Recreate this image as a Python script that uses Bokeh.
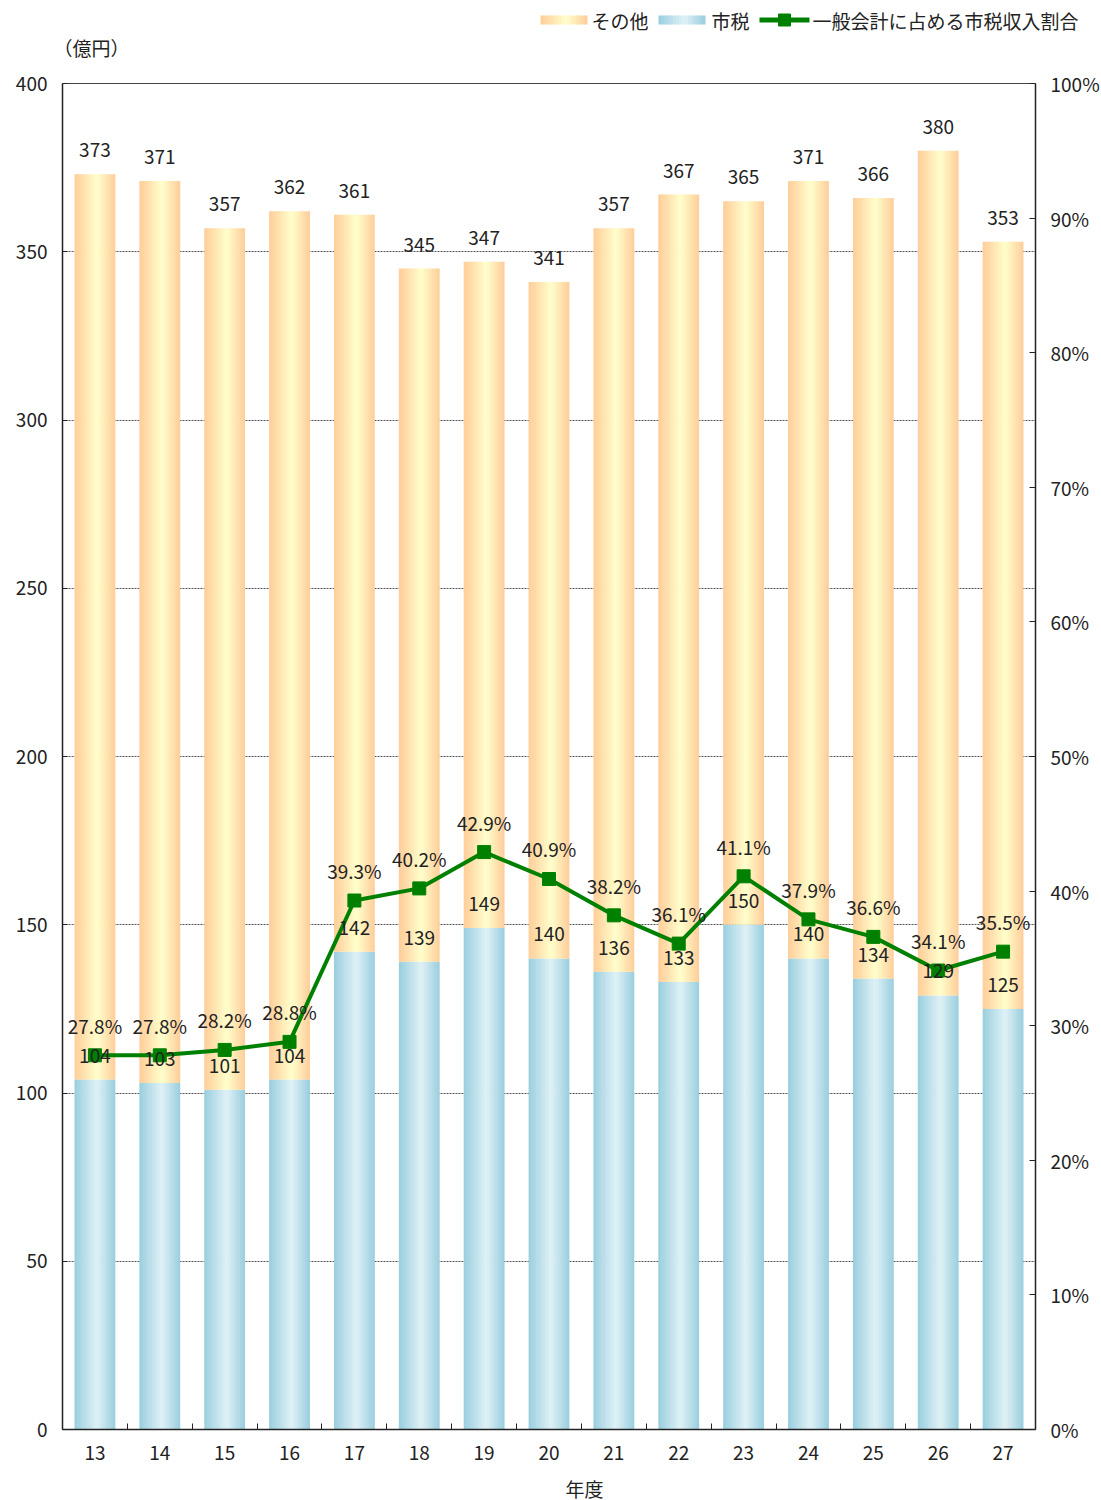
from bokeh.plotting import figure
from bokeh.models import (Range1d, LinearAxis, FixedTicker, ColumnDataSource,
                          LabelSet, Title, PrintfTickFormatter)
from bokeh.core.properties import value
from bokeh.embed import file_html
from bokeh.resources import INLINE
import numpy as np

# ---- data ----
years = ["13", "14", "15", "16", "17", "18", "19", "20", "21", "22", "23", "24", "25", "26", "27"]
city_tax = [104, 103, 101, 104, 142, 139, 149, 140, 136, 133, 150, 140, 134, 129, 125]
total = [373, 371, 357, 362, 361, 345, 347, 341, 357, 367, 365, 371, 366, 380, 353]
tax_ratio = [27.8, 27.8, 28.2, 28.8, 39.3, 40.2, 42.9, 40.9, 38.2, 36.1, 41.1, 37.9, 36.6, 34.1, 35.5]
left_ticks = [0, 50, 100, 150, 200, 250, 300, 350, 400]
right_ticks = [0, 10, 20, 30, 40, 50, 60, 70, 80, 90, 100]
series_names = ["その他", "市税", "一般会計に占める市税収入割合"]

FONT = "Noto Sans CJK JP"
FS = "19px"
TXT = "#222222"
GREEN = "#008000"
ORANGE_EDGE, ORANGE_CENTER = "#FFCC99", "#FFFFCC"
BLUE_EDGE, BLUE_CENTER = "#99CEDE", "#DFF1F6"
n = len(years)
idx = np.arange(n)
FIG_W = 1098
TOP_H = 65


def hex2rgb(h):
    h = h.lstrip("#")
    return np.array([int(h[i:i + 2], 16) for i in (0, 2, 4)], dtype=float)


def mix(c1, c2, a):
    c = hex2rgb(c1) * (1 - a) + hex2rgb(c2) * a
    return "#%02x%02x%02x" % tuple(int(round(v)) for v in c)


def gradient_strips(centers, width, bottom, top, edge, center, ns=16, peak=0.55):
    """Split each bar into ns vertical strips whose colour follows a horizontal gradient."""
    L, R, B, T, C = [], [], [], [], []
    sw = width / ns
    for i in range(ns):
        t = (i + 0.5) / ns
        a = t / peak if t <= peak else (1 - t) / (1 - peak)
        col = mix(edge, center, a)
        for k in range(len(centers)):
            l = centers[k] - width / 2 + i * sw
            r = l + sw * (1.25 if i < ns - 1 else 1.0)
            L.append(l); R.append(r); B.append(bottom[k]); T.append(top[k]); C.append(col)
    return ColumnDataSource(dict(left=L, right=R, bottom=B, top=T, color=C))


# ================= header: unit label + legend =================
hdr = figure(width=FIG_W, height=TOP_H, x_range=Range1d(0, FIG_W), y_range=Range1d(TOP_H, 0),
             x_axis_type=None, y_axis_type=None, output_backend="svg", toolbar_location=None,
             min_border=0, outline_line_color=None)
hdr.grid.visible = False

LEG_Y = 19.5
hdr.quad(left="left", right="right", bottom="bottom", top="top", fill_color="color", line_color=None,
         source=gradient_strips([563.5], 47, [LEG_Y + 4.5], [LEG_Y - 4.5], ORANGE_EDGE, ORANGE_CENTER))
hdr.quad(left="left", right="right", bottom="bottom", top="top", fill_color="color", line_color=None,
         source=gradient_strips([681.5], 47, [LEG_Y + 4.5], [LEG_Y - 4.5], BLUE_EDGE, BLUE_CENTER))
hdr.line(x=[759, 809], y=[LEG_Y, LEG_Y], line_color=GREEN, line_width=5)
hdr.scatter(x=[784], y=[LEG_Y], marker="square", size=12, fill_color=GREEN, line_color=GREEN)
hdr.text(x=[591, 711, 812], y=[LEG_Y] * 3, text=series_names, text_font=value(FONT),
         text_font_size=FS, text_color=TXT, text_baseline="middle", text_align="left")
hdr.text(x=[53], y=[47], text=["（億円）"], text_font=value(FONT), text_font_size=FS,
         text_color=TXT, text_baseline="middle", text_align="left")

# ================= main chart =================
p = figure(frame_width=973, frame_height=1346,
           x_range=Range1d(-0.5, n - 0.5), y_range=Range1d(0, 400),
           output_backend="svg", toolbar_location=None,
           min_border_left=62, min_border_right=63, min_border_top=83 - TOP_H,
           min_border_bottom=71)
p.extra_y_ranges = {"pct": Range1d(0, 100)}
p.background_fill_color = "white"
p.outline_line_color = "#444444"

BAR_W = 0.63
p.quad(left="left", right="right", bottom="bottom", top="top", fill_color="color",
       line_color=None,
       source=gradient_strips(idx, BAR_W, [0] * n, city_tax, BLUE_EDGE, BLUE_CENTER))
p.quad(left="left", right="right", bottom="bottom", top="top", fill_color="color",
       line_color=None,
       source=gradient_strips(idx, BAR_W, city_tax, total, ORANGE_EDGE, ORANGE_CENTER))

src = ColumnDataSource(dict(
    x=idx, tax=city_tax, total=total, pct=tax_ratio,
    tax_s=[str(v) for v in city_tax], total_s=[str(v) for v in total],
    pct_s=["%.1f%%" % v for v in tax_ratio]))
p.line("x", "pct", source=src, y_range_name="pct", line_color=GREEN, line_width=4)
p.scatter("x", "pct", source=src, y_range_name="pct", marker="square", size=13,
          fill_color=GREEN, line_color=GREEN)

common = dict(text_align="center", text_baseline="middle", text_font=value(FONT),
              text_font_size=FS, text_color=TXT)
p.add_layout(LabelSet(x="x", y="tax", text="tax_s", y_offset=24, source=src, **common))
p.add_layout(LabelSet(x="x", y="total", text="total_s", y_offset=24, source=src, **common))
p.add_layout(LabelSet(x="x", y="pct", text="pct_s", y_offset=30, source=src,
                      y_range_name="pct", **common))

xa = p.xaxis[0]
xa.ticker = FixedTicker(ticks=list(idx), minor_ticks=list(idx[:-1] + 0.5))
xa.major_label_overrides = {int(i): years[i] for i in idx}
xa.major_tick_line_color = None
xa.minor_tick_in = 6
xa.minor_tick_out = 0
xa.minor_tick_line_color = "#222222"
xa.major_label_standoff = 10

ya = p.yaxis[0]
ya.ticker = FixedTicker(ticks=left_ticks)
ya.major_tick_in = 5
ya.major_tick_out = 0
ya.minor_tick_line_color = None
ya.major_label_standoff = 15

ra = LinearAxis(y_range_name="pct", ticker=FixedTicker(ticks=right_ticks),
                formatter=PrintfTickFormatter(format="%d%%"))
ra.major_tick_in = 6
ra.major_tick_out = 0
ra.minor_tick_line_color = None
ra.major_label_standoff = 15
p.add_layout(ra, "right")

for ax in (xa, ya, ra):
    ax.axis_line_color = "#222222"
    ax.axis_line_width = 1.5
    ax.major_label_text_font = FONT
    ax.major_label_text_font_size = FS
    ax.major_label_text_color = TXT
    if ax is not xa:
        ax.major_tick_line_color = "#222222"

p.xgrid.visible = False
p.ygrid.ticker = FixedTicker(ticks=left_ticks)
p.ygrid.grid_line_color = "#555555"
p.ygrid.grid_line_dash = "2 1"
p.ygrid.grid_line_width = 1

xlab = Title(text="年度", align="left", offset=503, text_font=FONT, text_font_size=FS,
             text_font_style="normal", text_color=TXT, standoff=20)
p.add_layout(xlab, "below")

# two separate roots, stacked: header first, then the chart
open("out.html", "w").write(file_html([hdr, p], INLINE))
